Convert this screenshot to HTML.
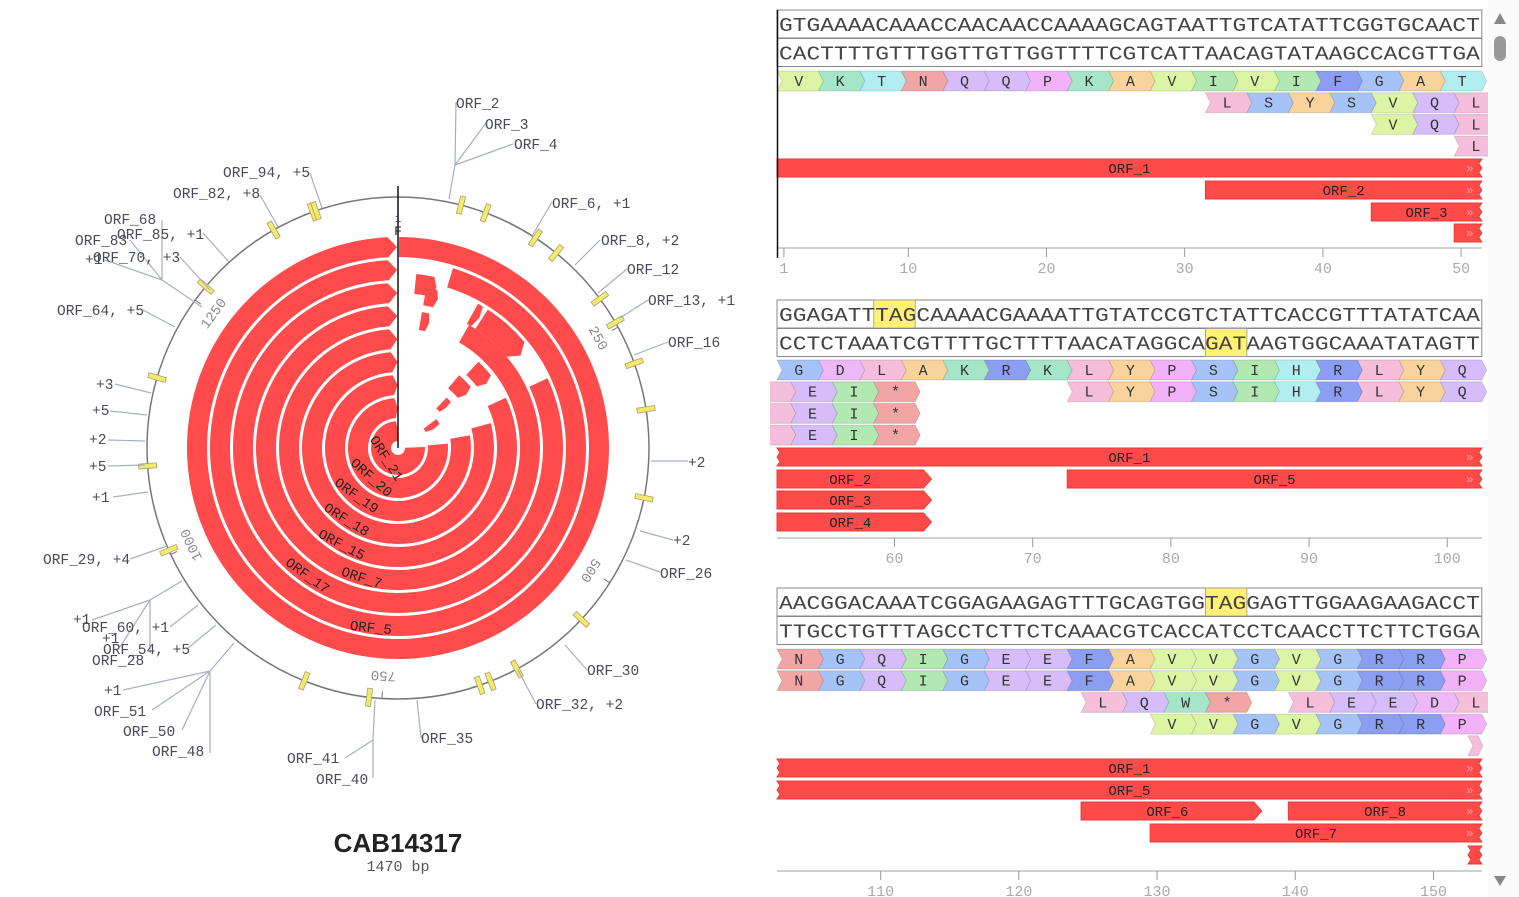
<!DOCTYPE html>
<html><head><meta charset="utf-8">
<style>
html,body{margin:0;padding:0;background:#fff;width:1519px;height:897px;overflow:hidden}
svg text{font-family:"Liberation Mono",monospace}
</style></head><body>
<svg id="s" xmlns="http://www.w3.org/2000/svg" width="1519" height="897" viewBox="0 0 1519 897">
<defs><clipPath id="cp"><rect x="770" y="0" width="718" height="897"/></clipPath></defs>
<rect x="1488" y="0" width="31" height="897" fill="#fafafa"/>
<polygon points="1494,24 1506,24 1500,13" fill="#888"/>
<rect x="1494" y="36" width="12" height="25" rx="6" fill="#999"/>
<polygon points="1494,876 1506,876 1500,886" fill="#888"/>
<g id="circ"></g>
<g id="seq" clip-path="url(#cp)"></g>
<text x="398" y="852" text-anchor="middle" font-size="26" font-weight="bold" fill="#222" style="font-family:'Liberation Sans',sans-serif">CAB14317</text>
<text x="398" y="871" text-anchor="middle" font-size="15" fill="#555">1470 bp</text>
</svg>
<script>
var NS="http://www.w3.org/2000/svg";
function el(p,t,a,txt){var e=document.createElementNS(NS,t);for(var k in a)e.setAttribute(k,a[k]);if(txt!==undefined)e.textContent=txt;p.appendChild(e);return e;}
var C=document.getElementById('circ'),S=document.getElementById('seq');
var cx=398,cy=448,R=251;
function pt(r,a){var t=a*Math.PI/180;return [cx+r*Math.sin(t),cy-r*Math.cos(t)];}
var RED="#ff4b4b";
function arc(ri,ro,a0,a1,tip){
 var p0=pt(ro,a0),p1=pt(ro,a1),p2=pt(ri,a1),p3=pt(ri,a0);
 var lg=(a1-a0)>180?1:0;var d="M"+p0+" A"+ro+","+ro+" 0 "+lg+" 1 "+p1;
 if(tip){var m=pt((ri+ro)/2,a1+tip);d+=" L"+m;}
 d+=" L"+p2+" A"+ri+","+ri+" 0 "+lg+" 0 "+p3+" Z";
 el(C,'path',{d:d,fill:RED});
}
var starts=[0.3,17,65,30,65,75,80,85,88];
for(var i=0;i<9;i++){var ro=211-23*i,ri=ro-20;var tipa=Math.min(4,600/ro*0.9);
 arc(ri,ro,starts[i],359.7-tipa,tipa);}
arc(155,175,6,12,1.5);arc(145,163,10,14,1);arc(120,138,10,13,1);arc(142,165,33,50,3);
arc(142,165,29,31,1);arc(100,118,43,52,2);arc(78,95,40,50,2);arc(55,70,44,49,1);arc(32,48,53,60,2);
el(C,'circle',{cx:cx,cy:cy,r:6,fill:"#fff"});
el(C,'circle',{cx:cx,cy:cy,r:R,fill:"none",stroke:"#777","stroke-width":1.5});
el(C,'line',{x1:398,y1:186,x2:398,y2:448,stroke:"#111","stroke-width":1.5});
el(C,'text',{x:398,y:222,"font-size":11,"text-anchor":"middle",fill:"#336"},"1");
el(C,'text',{x:398,y:235,"font-size":13,"text-anchor":"middle",fill:"#223"},"F");
[[250,"250"],[500,"500"],[750,"750"],[1000,"1000"],[1250,"1250"]].forEach(function(t){
 var a=t[0]/1470*360;var p=pt(R,a),q=pt(R-7,a);el(C,'line',{x1:p[0],y1:p[1],x2:q[0],y2:q[1],stroke:"#777"});
 var m=pt(R-22,a);el(C,'text',{x:m[0],y:m[1]+5,"font-size":14,"text-anchor":"middle",fill:"#889",transform:"rotate("+a+" "+m[0]+" "+m[1]+")"},t[1]);
});
[[461,205],[486,212],[536,237],[556,253],[601,298],[616,322],[635,363],[648,409],[645,498],[582,620],[480,686],[492,685],[518,671],[369,698],[303,684],[165,552],[147,466],[155,377],[205,286],[273,229],[312,210],[316,211]].forEach(function(p){
 var a=Math.atan2(p[0]-cx,cy-p[1])*180/Math.PI;var q=pt(R,a);
 el(C,'rect',{x:q[0]-2.5,y:q[1]-9,width:5,height:18,fill:"#f2ea6a",stroke:"#aaa070","stroke-width":0.8,transform:"rotate("+a+" "+q[0]+" "+q[1]+")"});
});
var LC="#a8b0bf";
[[449,199,455,165],[455,165,456,102],[455,165,486,123],[455,165,513,144],[532,236,552,202],[575,265,600,240],[598,293,627,269],[620,318,648,300],[634,355,668,342],[651,461,688,461],[640,531,673,540],[626,560,660,572],[565,645,587,670],[518,670,536,704],[417,700,421,738],
[375,700,373,740],[373,740,373,778],[373,740,345,758],
[234,643,210,671],[210,671,210,753],[210,671,182,730],[210,671,152,710],[210,671,123,690],
[216,625,188,648],[182,581,150,600],[150,600,92,620],[150,600,150,653],[150,600,120,647],[198,605,170,627],[167,546,130,559],
[151,393,115,384],[147,415,110,411],[145,441,108,440],[145,465,108,466],[148,492,113,497],
[175,327,143,310],[202,307,162,280],[162,280,162,220],[162,280,130,240],[162,280,105,260],[229,262,203,233],[210,290,180,257],[278,227,260,195],[322,208,310,173]
].forEach(function(l){el(C,'line',{x1:l[0],y1:l[1],x2:l[2],y2:l[3],stroke:LC,"stroke-width":1.2});});
var LT="#4a4a5a";
[["ORF_2",456,108],["ORF_3",485,129],["ORF_4",514,149],["ORF_6,+1",552,208],["ORF_8,+2",601,245],["ORF_12",627,274],["ORF_13,+1",648,305],["ORF_16",668,347],["+2",688,467],["+2",673,545],["ORF_26",660,578],["ORF_30",587,675],["ORF_32,+2",536,709],["ORF_35",421,743],["ORF_41",287,763],["ORF_40",316,784],["ORF_48",152,756],["ORF_50",123,736],["ORF_51",94,716],["+1",104,695],["ORF_54,+5",103,654],["+1",102,643],["ORF_28",92,665],["ORF_60,+1",82,632],["+1",73,624],["ORF_29,+4",43,564],["+1",92,502],["+5",89,471],["+2",89,444],["+5",92,415],["+3",96,389],["ORF_64,+5",57,315],["ORF_68",104,224],["ORF_83",75,245],["ORF_85,+1",117,239],["+1",85,264],["ORF_70,+3",93,262],["ORF_82,+8",173,198],["ORF_94,+5",223,177]
].forEach(function(t){var s=t[0].replace(",",", ");el(C,'text',{x:t[1],y:t[2],"font-size":14.5,fill:LT},s);});
[["ORF_21",387,458,58],["ORF_20",372,477,42],["ORF_19",357,495,36],["ORF_18",347,519,32],["ORF_15",342,544,28],["ORF_7",362,577,18],["ORF_17",308,575,36],["ORF_5",371,627,6]].forEach(function(t){
 el(C,'text',{x:t[1],y:t[2]+5,"font-size":14,"text-anchor":"middle",fill:"#222",transform:"rotate("+t[3]+" "+t[1]+" "+t[2]+")"},t[0]);});

// ---------- sequence panel ----------
var X0=777,BW=13.82,AW=3*BW,RE=X0+51*BW;
function bx(i){return X0+i*BW;}
var col={V:"#dbf5a5",K:"#a5e6c8",T:"#b2eef0",N:"#f2a5a5",Q:"#d6bcf8",P:"#f2b2f8",A:"#f8d39c",I:"#b2e8b2",F:"#8c9ef2",G:"#a6c3f8",L:"#f5bfdc",S:"#a6c3f8",Y:"#f8d39c",D:"#ecb8f5",E:"#d6bcf8",R:"#8c9ef2",H:"#b2eef0",W:"#a5e6c8","*":"#f2a5a5","_":"#f5bfdc"};
function amino(x,y,w,c){var h=20,n=5;
 el(S,'polygon',{points:[x,y,x+w,y,x+w+n,y+h/2,x+w,y+h,x,y+h,x+n,y+h/2].join(" "),fill:col[c],stroke:"rgba(0,0,0,0.12)","stroke-width":1});
 if(c!="_")el(S,'text',{x:x+w/2+1,y:y+15,"font-size":15,"text-anchor":"middle",fill:"#333"},c);}
function arow(y,x,str){for(var i=0;i<str.length;i++)amino(x+i*AW,y,AW,str[i]);}
function orf(y,x1,x2,label,opt){opt=opt||{};var h=18,pts=[];
 var r=Math.min(x2,RE);
 pts.push([x1,y]);pts.push([r,y]);
 if(opt.tip){pts.push([r+8,y+h/2]);}
 else if(r>=RE-1){pts.push([r-3,y+4.5]);pts.push([r,y+9]);pts.push([r-3,y+13.5]);}
 pts.push([r,y+h]);pts.push([x1,y+h]);
 if(opt.jl){pts.push([x1+3,y+13.5]);pts.push([x1,y+9]);pts.push([x1+3,y+4.5]);}
 el(S,'polygon',{points:pts.map(function(p){return p.join(",")}).join(" "),fill:"#ff4a4a",stroke:"#f03a3a","stroke-width":1});
 if(label)el(S,'text',{x:(x1+r)/2,y:y+14,"font-size":14,"text-anchor":"middle",fill:"#222"},label);
 if(r>=RE-1&&!opt.tip&&r-x1>25)el(S,'text',{x:r-12,y:y+13,"font-size":12,"text-anchor":"middle",fill:"#ff9a9a"},"»");
}
function seqbox(y,str,hl){
 el(S,'rect',{x:X0,y:y,width:RE-X0,height:28,fill:"#fff",stroke:"#888","stroke-width":1});
 if(hl!==undefined)el(S,'rect',{x:bx(hl),y:y,width:3*BW,height:28,fill:"#fff176",stroke:"#999","stroke-width":0.8});
 el(S,'text',{x:X0+2,y:y+21,"font-size":19,textLength:RE-X0-4,lengthAdjust:"spacingAndGlyphs",fill:"#444"},str);}
function axis(y,ticks,base){
 el(S,'line',{x1:X0,y1:y,x2:RE,y2:y,stroke:"#d0d0d0","stroke-width":2});
 ticks.forEach(function(n){var x=X0+(n-base-0.5)*BW;el(S,'line',{x1:x,y1:y,x2:x,y2:y+9,stroke:"#999"});
 el(S,'text',{x:x,y:y+25,"font-size":15,"text-anchor":"middle",fill:"#aaa"},String(n));});}
var P=21.7;
// block1
seqbox(10,"GTGAAAACAAACCAACAACCAAAAGCAGTAATTGTCATATTCGGTGCAACT");
seqbox(38.5,"CACTTTTGTTTGGTTGTTGGTTTTCGTCATTAACAGTATAAGCCACGTTGA");
arow(71,X0,"VKTNQQPKAVIVIFGAT");arow(71+P,bx(31),"LSYSVQL");arow(71+2*P,bx(43),"VQL");arow(71+3*P,bx(49),"L");
orf(159,X0,RE,"ORF_1");orf(181,bx(31),RE,"ORF_2");orf(203,bx(43),RE,"ORF_3");orf(224,bx(49),RE,"");
axis(248,[1,10,20,30,40,50],0);
el(S,'line',{x1:777.5,y1:10,x2:777.5,y2:258,stroke:"#111","stroke-width":1.5});
// block2
seqbox(300,"GGAGATTTAGCAAAACGAAAATTGTATCCGTCTATTCACCGTTTATATCAA",7);
seqbox(328.5,"CCTCTAAATCGTTTTGCTTTTAACATAGGCAGATAAGTGGCAAATATAGTT",31);
arow(360,X0,"GDLAKRKLYPSIHRLYQ");
for(var k=1;k<4;k++){amino(bx(1)-28,360+k*P,28,"_");arow(360+k*P,bx(1),"EI*");}
arow(360+P,bx(21),"LYPSIHRLYQ");
orf(448,X0,RE,"ORF_1",{jl:1});orf(470,X0,bx(10.6),"ORF_2",{tip:1});
orf(470,bx(21),RE,"ORF_5");orf(491,X0,bx(10.6),"ORF_3",{tip:1});orf(513,X0,bx(10.6),"ORF_4",{tip:1});
axis(538,[60,70,80,90,100],51);
// block3
seqbox(588,"AACGGACAAATCGGAGAAGAGTTTGCAGTGGTAGGAGTTGGAAGAAGACCT",31);
seqbox(616.5,"TTGCCTGTTTAGCCTCTTCTCAAACGTCACCATCCTCAACCTTCTTCTGGA");
arow(649,X0,"NGQIGEEFAVVGVGRRP");arow(649+P,X0,"NGQIGEEFAVVGVGRRP");
arow(649+2*P,bx(22),"LQW*");arow(649+2*P,bx(37),"LEEDL");arow(649+3*P,bx(27),"VVGVGRRP");amino(bx(50),649+4*P,10,"_");
orf(759,X0,RE,"ORF_1",{jl:1});orf(781,X0,RE,"ORF_5",{jl:1});orf(802,bx(22),bx(34.5),"ORF_6",{tip:1});orf(802,bx(37),RE,"ORF_8");
orf(824,bx(27),RE,"ORF_7");orf(846,bx(50),RE,"",{jl:1});
axis(871,[110,120,130,140,150],102);
</script>
</body></html>
